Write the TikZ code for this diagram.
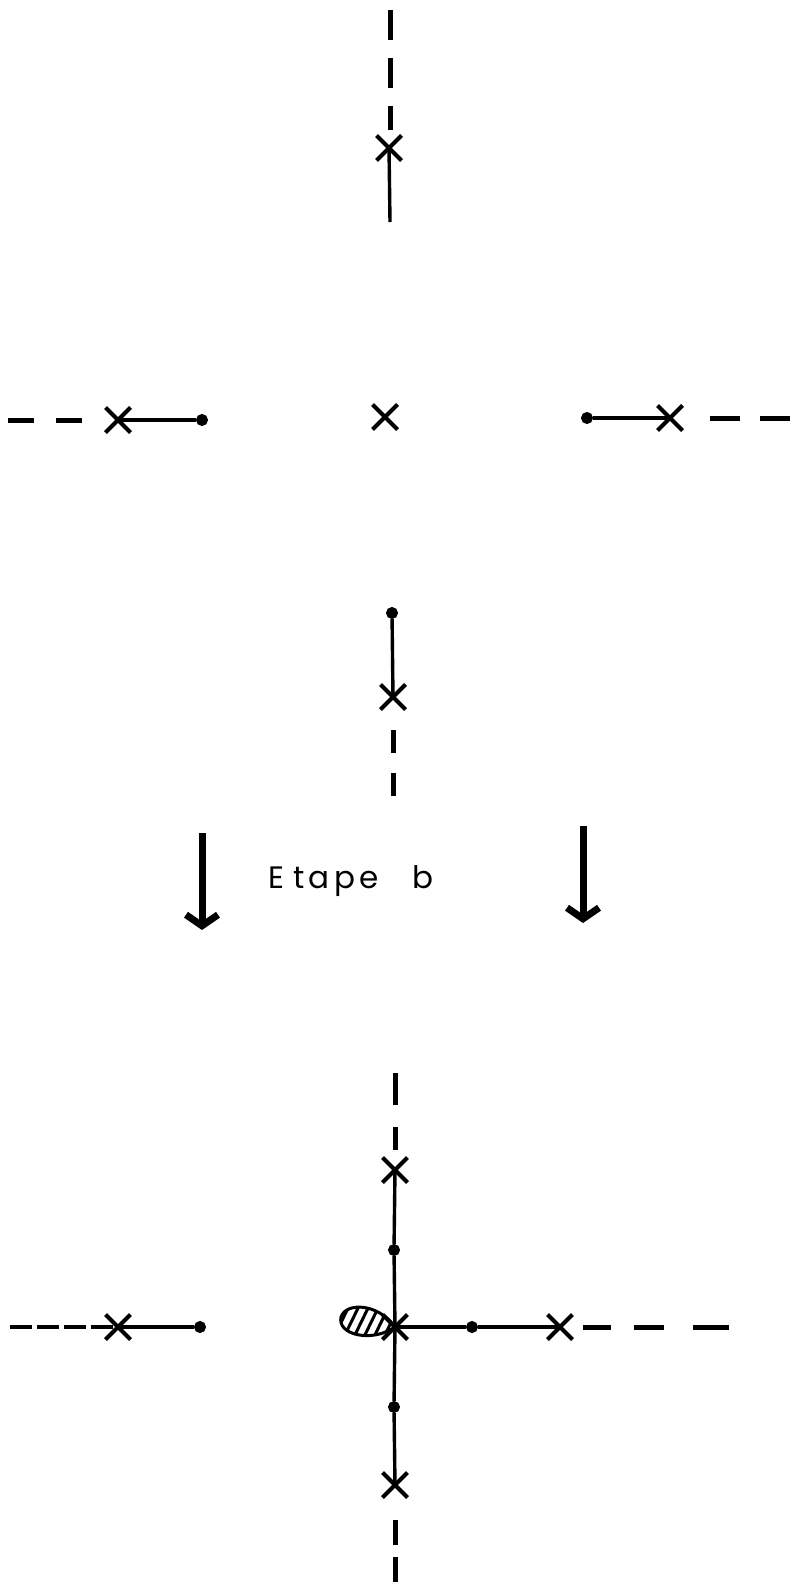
\documentclass[tikz,border=0pt]{standalone}
\usepackage{fontspec}
\setmainfont{Poppins}
\usetikzlibrary{shapes.misc,arrows.meta}
\tikzset{
  pole/.style={cross out, draw, line width=4pt, minimum size=21pt, inner sep=0pt},
  zero/.style={circle, fill, draw, line width=1pt, inner sep=0pt, minimum size=11pt},
  locus/.style={line width=3.4pt},
  asym/.style={line width=5pt},
  bigarrow/.style={line width=7pt, -{Straight Barb[length=11pt,width=32pt]}},
}
\begin{document}
\begin{tikzpicture}[x=1pt,y=-1pt]
\useasboundingbox (0,0) rectangle (800,1586);
% ---------- top diagram ----------
\node[pole] (p1) at (389,148) {};
\coordinate (p1top) at (390,10);
\coordinate (p1dash) at (390,130);
\coordinate (p1end) at (390,222);
\draw[asym, dash pattern=on 30pt off 18pt] (p1top) -- (p1dash);
\draw[locus] (p1.center) -- (p1end);

\node[pole] (p2) at (118,420) {};
\node[zero] (z2) at (202,420) {};
\coordinate (p2left) at (8,420);
\coordinate (p2dash) at (90,420);
\draw[asym, dash pattern=on 26pt off 22pt] (p2left) -- (p2dash);
\draw[locus] (p2.center) -- (z2);

\node[pole] (p0) at (385,417) {};

\node[pole] (p3) at (670,418) {};
\node[zero] (z3) at (587,418) {};
\coordinate (p3dash) at (710,418);
\coordinate (p3right) at (800,418);
\draw[asym, dash pattern=on 30pt off 20pt] (p3dash) -- (p3right);
\draw[locus] (p3.center) -- (z3);

\node[pole] (p4) at (393,697) {};
\node[zero] (z4) at (392,613) {};
\coordinate (p4dash) at (393,730);
\coordinate (p4bot) at (393,800);
\draw[asym, dash pattern=on 23pt off 20pt] (p4dash) -- (p4bot);
\draw[locus] (p4.center) -- (z4);

% ---------- step label ----------
\coordinate (a1s) at (202,833);
\coordinate (a1e) at (202,930);
\coordinate (a2s) at (583,826);
\coordinate (a2e) at (583,923);
\draw[bigarrow] (a1s) -- (a1e);
\draw[bigarrow] (a2s) -- (a2e);
\node[anchor=base west, inner sep=0pt, font=\fontsize{31}{33}\selectfont] (lbl) at (268,888)
  {\addfontfeature{LetterSpace=14}E\hspace{9pt}tape\hspace{34pt}b};

% ---------- bottom diagram ----------
\node[pole] (c) at (395,1327) {};
\node[pole] (q1) at (395,1170) {};
\node[zero] (w1) at (394,1250) {};
\node[zero] (w2) at (394,1407) {};
\node[pole] (q2) at (395,1485) {};
\node[zero] (w3) at (472,1327) {};
\node[pole] (q3) at (560,1327) {};
\node[pole] (q4) at (118,1327) {};
\node[zero] (w4) at (200,1327) {};
\coordinate (q1top) at (395,1073);
\coordinate (q1dash) at (395,1150);
\coordinate (q2dash) at (395,1520);
\coordinate (q2bot) at (395,1590);
\coordinate (q3dash) at (583,1327);
\coordinate (q3right) at (729,1327);
\coordinate (q4left) at (10,1327);

\draw[locus] (q1.center) -- (w1) -- (c.center) -- (w2) -- (q2.center);
\draw[locus] (c.center) -- (w3) -- (q3.center);
\draw[locus] (q4.center) -- (w4);
\draw[asym, dash pattern=on 32pt off 22pt] (q1top) -- (q1dash);
\draw[asym, dash pattern=on 25pt off 12pt] (q2dash) -- (q2bot);
\draw[asym, dash pattern=on 28pt off 23pt on 30pt off 29pt on 40pt] (q3dash) -- (q3right);
\draw[locus, line width=4.5pt, dash pattern=on 22pt off 5pt] (q4left) -- (q4.center);

% hatched lobe at the centre
\path[save path=\lobe] (c.center) .. controls (378,1303) and (346,1302) .. (341,1317)
   .. controls (337,1335) and (372,1343) .. (c.center);
\begin{scope}
  \clip[use path=\lobe];
  \foreach \k in {0,...,8} {
    \draw[line width=3pt] (330+\k*10,1345) -- (352+\k*10,1300);
  }
\end{scope}
\draw[line width=3pt, use path=\lobe];
\end{tikzpicture}
\end{document}
